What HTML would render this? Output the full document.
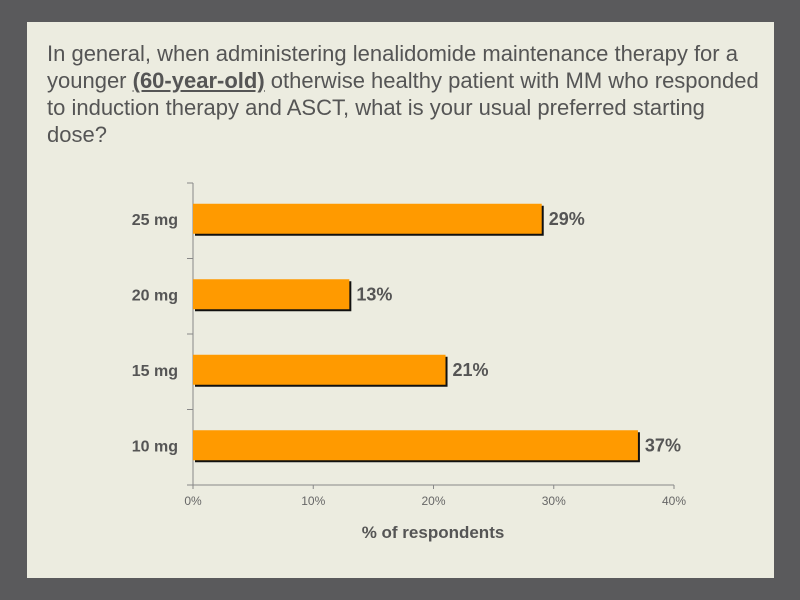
<!DOCTYPE html>
<html><head><meta charset="utf-8"><style>
body{margin:0;width:800px;height:600px;background:#5a5a5c;font-family:"Liberation Sans",Arial,sans-serif;overflow:hidden}
#panel{position:absolute;left:27px;top:22px;width:747px;height:556px;background:#ecece0}
#title{position:absolute;left:47px;top:40px;width:720px;font-size:22px;line-height:27px;color:#555}
#title u{font-weight:bold}
</style></head><body>
<div id="panel"></div>
<div id="title">In general, when administering lenalidomide maintenance therapy for a younger <u>(60-year-old)</u> otherwise healthy patient with MM who responded to induction therapy and ASCT, what is your usual preferred starting dose?</div>
<svg id="chart" width="800" height="600" style="position:absolute;left:0;top:0"></svg>
<script>
const categories=["25 mg","20 mg","15 mg","10 mg"];
const values=[29,13,21,37];
const valueLabels=["29%","13%","21%","37%"];
const ticks=[0,10,20,30,40];
const tickLabels=["0%","10%","20%","30%","40%"];
const svg=document.getElementById('chart');
const NS='http://www.w3.org/2000/svg';
const x0=193,x1=674,yTop=183,yBot=485,maxV=40;
const xs=v=>x0+(v/maxV)*(x1-x0);
const band=(yBot-yTop)/categories.length;
function mk(t,a,p){const e=document.createElementNS(NS,t);for(const k in a)e.setAttribute(k,a[k]);(p||svg).appendChild(e);return e;}
let e;
e=mk('line',{x1:x0,y1:yTop,x2:x0,y2:yBot,stroke:'#888','stroke-width':1});


e=mk('line',{x1:x0,y1:yBot,x2:x1,y2:yBot,stroke:'#888','stroke-width':1});


for(let i=0;i<=categories.length;i++){const y=yTop+i*band;mk('line',{x1:x0-6,y1:y,x2:x0,y2:y,stroke:'#888'});}
ticks.forEach((t,i)=>{const x=xs(t);mk('line',{x1:x,y1:yBot,x2:x,y2:yBot+4,stroke:'#888'});
e=mk('text',{x:x,y:yBot+20,'text-anchor':'middle','font-size':12,fill:'#666'});e.textContent=tickLabels[i];

});
categories.forEach((c,i)=>{const yc=yTop+band*(i+0.5);const h=30;const y=yc-h/2-2;const w=xs(values[i])-x0;
mk('rect',{x:x0+2,y:y+2,width:w,height:h,fill:'#111'});
e=mk('rect',{x:x0,y:y,width:w,height:h,fill:'#ff9a00'});


e=mk('text',{x:x0+w+7,y:yc+4,'font-size':18,'font-weight':'bold',fill:'#555'});e.textContent=valueLabels[i];


e=mk('text',{x:178,y:yc+4,'text-anchor':'end','font-size':16,'font-weight':'bold',fill:'#555'});e.textContent=c;

});
e=mk('text',{x:433,y:538,'text-anchor':'middle','font-size':17,'font-weight':'bold',fill:'#555'});e.textContent='% of respondents';


</script>
</body></html>
